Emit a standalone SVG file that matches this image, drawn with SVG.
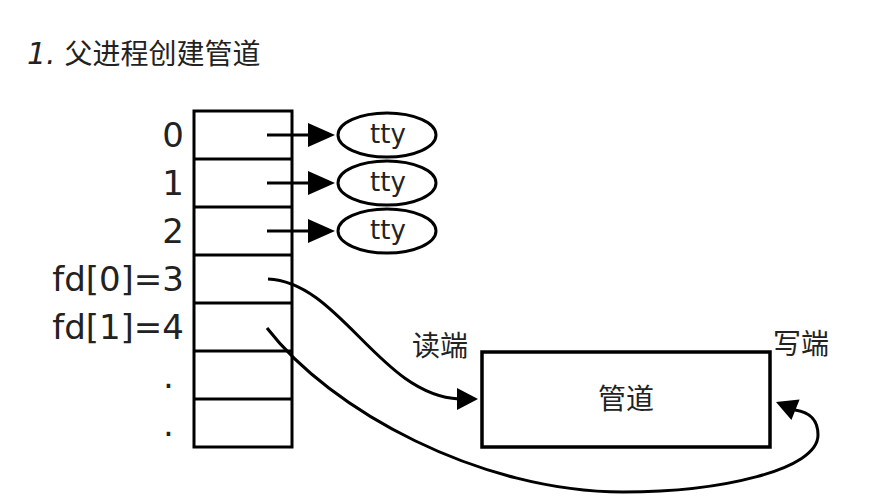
<svg xmlns="http://www.w3.org/2000/svg" width="882" height="504" viewBox="0 0 882 504">
<style>
.ln{fill:none;stroke:#000;stroke-width:3}
.box{fill:#fff;stroke:#000;stroke-width:3.5}
.ah{fill:#000;stroke:none}
.lbl{font-family:"DejaVu Sans",sans-serif;font-size:34px;fill:#222}
.tty{font-family:"DejaVu Sans",sans-serif;font-size:26px;fill:#222;text-anchor:middle}
.cjk{font-family:"DejaVu Sans","Noto Sans CJK SC",sans-serif;font-size:28px;fill:#222}
.title{font-family:"DejaVu Sans","Noto Sans CJK SC",sans-serif;font-size:28px;fill:#222}
</style>
<rect width="882" height="504" fill="#fff"/>
<text class="title" x="27" y="64"><tspan font-style="italic" font-size="30">1.</tspan> 父进程创建管道</text>

<g id="fdtable">
<rect class="ln" x="194" y="111" width="98" height="336"/>
<path class="ln" d="M194 159H292M194 207H292M194 255H292M194 303H292M194 351H292M194 399H292"/>
<text class="lbl" x="184" y="147" text-anchor="end">0</text>
<text class="lbl" x="184" y="195" text-anchor="end">1</text>
<text class="lbl" x="184" y="243" text-anchor="end">2</text>
<text class="lbl" x="184" y="291" text-anchor="end">fd[0]=3</text>
<text class="lbl" x="184" y="339" text-anchor="end">fd[1]=4</text>
<text class="lbl" x="163" y="388" font-size="24">.</text>
<text class="lbl" x="163" y="436" font-size="24">.</text>
</g>

<g id="tty0">
<ellipse class="ln" cx="387" cy="135" rx="49" ry="22"/>
<text class="tty" x="388" y="143">tty</text>
</g>
<g id="tty1">
<ellipse class="ln" cx="387" cy="183" rx="49" ry="22"/>
<text class="tty" x="388" y="191">tty</text>
</g>
<g id="tty2">
<ellipse class="ln" cx="387" cy="231" rx="49" ry="22"/>
<text class="tty" x="388" y="239">tty</text>
</g>

<g id="pipe">
<rect class="box" x="482" y="352" width="288" height="95"/>
<text class="cjk" x="626" y="409" text-anchor="middle">管道</text>
</g>

<g id="labels">
<text class="cjk" x="440" y="356" text-anchor="middle">读端</text>
<text class="cjk" x="801" y="354" text-anchor="middle">写端</text>
</g>

<g id="connectors">
<path class="ln" d="M267 135H310M267 183H310M267 231H310"/>
<polygon class="ah" points="308,123 335,135 308,147"/>
<polygon class="ah" points="308,171 335,183 308,195"/>
<polygon class="ah" points="308,219 335,231 308,243"/>
<path class="ln" d="M268 279C340 282 380 395 459 399"/>
<polygon class="ah" points="457,388 478,399 457,410"/>
<path class="ln" d="M267 328C330 410 480 492 623 492C720 492 818 470 818 435C818 418 808 412 795 410"/>
<polygon class="ah" points="776,402 799.6,399.6 791.4,420"/>
</g>
</svg>
